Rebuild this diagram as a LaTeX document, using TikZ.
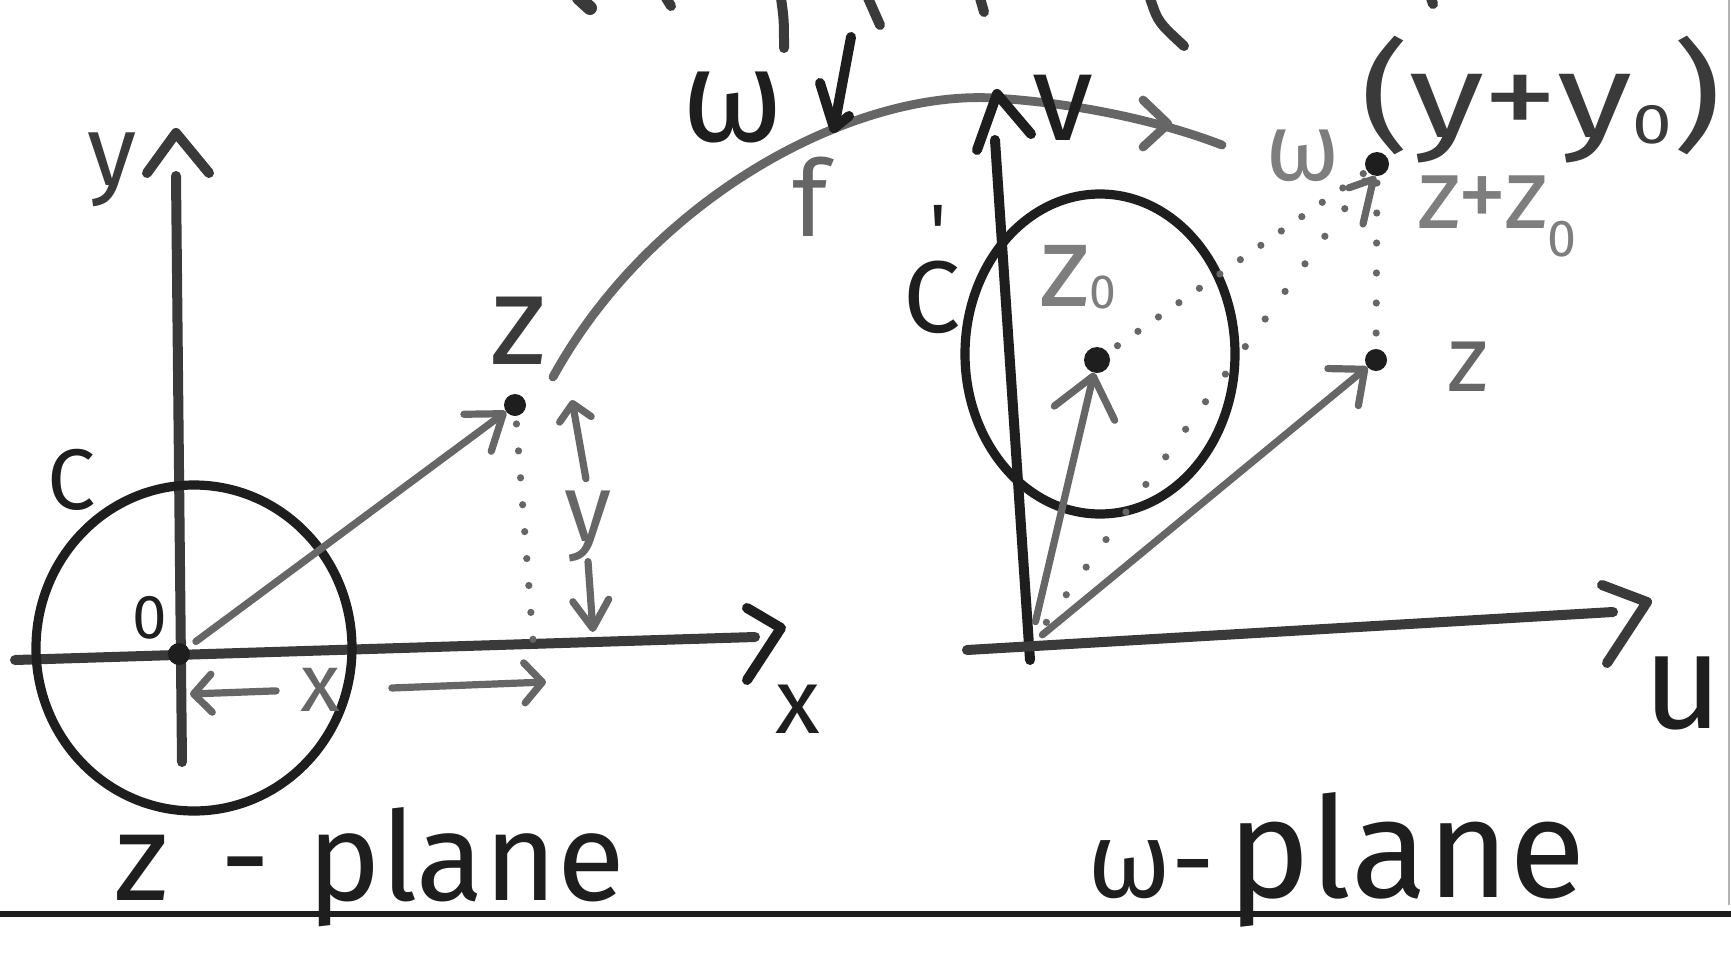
\documentclass[tikz,border=0pt]{standalone}
\usepackage{fontspec}
\setmainfont{Fira Sans}
\newfontfamily\rawfira{Fira Sans}
\usetikzlibrary{arrows.meta}
\definecolor{ink}{HTML}{1E1E1E}
\definecolor{dark}{HTML}{3A3A3A}
\definecolor{mid}{HTML}{666666}
\definecolor{light}{HTML}{7E7E7E}
\newcommand\FS[1]{\fontsize{#1}{#1}\selectfont}
\begin{document}
\begin{tikzpicture}[x=0.5pt,y=-0.5pt,
  every node/.style={inner sep=0pt, outer sep=0pt},
  axisln/.style={line width=5pt, line cap=round, line join=round, draw=dark},
  curveln/.style={line width=4.6pt, line cap=round, line join=round, draw=ink},
  arcln/.style={line width=4.4pt, line cap=round, line join=round, draw=mid},
  vec/.style={line width=3.6pt, line cap=round, line join=round, draw=mid},
  dotln/.style={line width=3.6pt, line cap=round, draw=mid, dash pattern=on 0pt off #1},
  dotln/.default=14pt,
  blob/.style={circle, fill=ink, minimum size=#1, inner sep=0pt},
  topln/.style={line width=5pt, line cap=round, draw=dark},
]
\fill[white] (0,0) rectangle (1731,959);
\useasboundingbox (0,0) rectangle (1731,959);

% ---------- cut-off strokes at the top edge ----------
\draw[topln, line width=7pt] (579,-2) -- (590,8);
\draw[topln] (666,-2) -- (671,6);
\draw[topln] (781,-2) .. controls (784,20) .. (784,48);
\draw[topln] (868,-2) .. controls (874,12) .. (880,25);
\draw[topln] (980,-2) -- (984,12);
\draw[topln] (1150,-2) .. controls (1158,22) .. (1184,46);
\draw[topln] (1431,-2) -- (1433,4);

% ---------- bottom rule and right scan edge ----------
\coordinate (ruleL) at (0,914);
\coordinate (ruleR) at (1731,914);
\draw[line width=2.6pt, draw=ink] (ruleL) -- (ruleR);
\coordinate (edgeT) at (1729,0);
\coordinate (edgeB) at (1729,905);
\draw[line width=0.6pt, draw=light!60] (edgeT) -- (edgeB);

% ================= z-plane =================
\coordinate (yTop) at (176,176);
\coordinate (yBot) at (182,762);
\coordinate (xL) at (15,660);
\coordinate (xR) at (755,637);
\draw[axisln] (yBot) -- (yTop);
\draw[axisln] (147,173) -- (176,133) -- (209,173);
\draw[axisln] (xL) -- (xR);
\draw[axisln, draw=ink] (747,608) -- (781,628) -- (747,680);

\draw[curveln] (194,648) ellipse [x radius=158, y radius=163];

\node[blob=11pt] (O1) at (179,654) {};
\node[blob=11pt] (Z1) at (515,405) {};
\coordinate (Z1foot) at (533,640);

\draw[vec, shorten <=5pt, -{Straight Barb[length=16pt,width=23pt,round]}] (O1) -- (Z1);
\draw[dotln=13.5pt, shorten <=4pt] (Z1) -- (Z1foot);

% y measurement
\node[text=mid, font=\FS{48pt}] (ymeas) at (588,526) {y};
\coordinate (ytip) at (572,400);
\coordinate (ybot) at (593,632);
\draw[vec, shorten <=6pt, -{Straight Barb[length=8pt,width=16pt,round]}] (ymeas.north) -- (ytip);
\draw[vec, -{Straight Barb[length=14pt,width=18pt,round]}] (ymeas.south) -- (ybot);

% x measurement
\node[text=mid, font=\FS{41pt}] (xmeas) at (320,690) {x};
\coordinate (xtipL) at (190,694);
\coordinate (xtipR) at (546,682);
\draw[vec, shorten <=12pt, -{Straight Barb[length=9pt,width=19pt,round]}] (xmeas.west) -- (xtipL);
\draw[vec, shorten <=26pt, -{Straight Barb[length=9pt,width=20pt,round]}] (xmeas.east) -- (xtipR);

% labels
\node[text=dark, font=\FS{50pt}] (ylbl) at (112,170) {y};
\node[text=ink, font=\FS{43pt}] (Clbl) at (72,480) {C};
\node[text=ink, font=\FS{31pt}] (olbl) at (150,618) {0};
\node[text=dark, font=\FS{64pt}] (zlbl) at (518,331) {z};
\node[text=ink, font=\FS{46pt}] (xlbl) at (798,709) {x};
\node[anchor=base west, text=ink, font=\FS{62pt}] (zplane) at (114,900) {z\hspace{0.42em}-\hspace{0.3em}plane};

% ================= mapping arc f =================
\coordinate (fS) at (553,377);
\coordinate (fT) at (994,98);
\coordinate (fE) at (1222,145);
\draw[arcln] (fS) .. controls (650,200) and (850,90) .. (fT) .. controls (1090,104) and (1170,125) .. (fE);
\draw[arcln] (1143,100) -- (1168,124) -- (1143,147);

\coordinate (wa1) at (851,37);
\coordinate (wa2) at (834,128);
\draw[curveln, line width=5pt] (wa1) -- (wa2);
\draw[curveln, line width=5pt] (820,83) -- (wa2) -- (849,116);
\node[text=ink, font=\FS{66pt}] (omlbl) at (733,108) {ω};
\node[text=mid, font=\FS{53pt}] (flbl) at (810,197) {f};

% ================= w-plane =================
\coordinate (vTop) at (995,140);
\coordinate (vBot) at (1030,660);
\coordinate (uL) at (967,650);
\coordinate (uR) at (1613,612);
\coordinate (O2) at (1030,645);
\draw[axisln, draw=ink] (vBot) -- (vTop);
\draw[axisln, draw=ink] (977,150) -- (997,94) -- (1031,134);
\draw[axisln] (uL) -- (uR);
\draw[axisln] (1602,585) -- (1647,602) -- (1607,663);

\draw[curveln, draw=ink] (1100,354) ellipse [x radius=135, y radius=160];

\node[blob=13pt] (Z0) at (1097,360) {};
\node[blob=11pt] (Z2) at (1376,360) {};
\node[blob=12pt] (W) at (1377,164) {};

\draw[dotln=12.5pt, shorten <=6pt] (Z0) -- (W);
\draw[dotln=17pt, shorten <=14pt] (O2) -- (W);
\draw[dotln=15pt, shorten <=8pt] (Z2) -- (W);

\draw[vec, shorten <=12pt, -{Straight Barb[length=19pt,width=31pt,round]}] (O2) -- (Z0);
\draw[vec, shorten <=8pt, -{Straight Barb[length=14pt,width=24pt,round]}] (O2) -- (Z2);

\coordinate (sa) at (1363,224);
\draw[vec, -{Straight Barb[left,length=7pt,width=22pt,round]}] (sa) -- (W);

% labels
\node[text=ink, font=\FS{62pt}] (vlbl) at (1063,108) {v};
\node[text=ink, font=\FS{68pt}] (ulbl) at (1683,693) {u};
\node[text=ink, font=\FS{51pt}, anchor=base west] (Cplbl) at (903,332) {C\kern-0.3em\raisebox{0.7em}{\rawfira\FS{40pt}'}};
\node[text=light, font=\FS{58pt}] (z0lbl) at (1078,277) {z\raisebox{-0.02em}{\FS{24pt}0}};
\node[text=light, font=\FS{48pt}] (wlbl) at (1303,156) {ω};
\node[text=light, font=\FS{50pt}] (zzlbl) at (1497,216) {z+z\raisebox{-0.28em}{\FS{26pt}0}};
\node[text=mid, font=\FS{47pt}] (z2lbl) at (1468,367) {z};
\node[anchor=west, text=dark, font=\FS{60pt}] (yylbl) at (1360,100) {\scalebox{1.27}[1]{(y+y\raisebox{-0.05em}{\FS{28pt}0})}};
\node[anchor=base west, text=ink, font=\FS{54pt}] (wplane) at (1087,897) {ω-\hspace{0.12em}{\FS{70pt}plane}};
\end{tikzpicture}
\end{document}
